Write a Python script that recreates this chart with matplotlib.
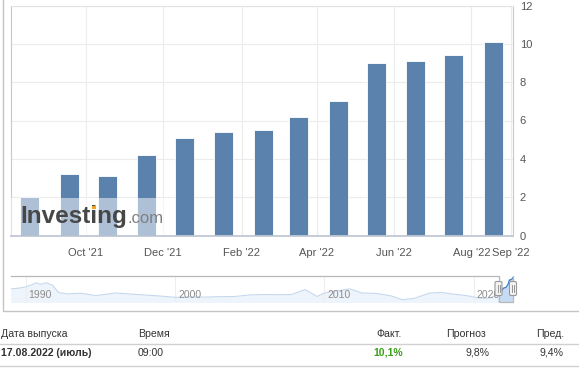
import matplotlib
matplotlib.use("Agg")
import matplotlib.pyplot as plt
from matplotlib.patches import Rectangle, FancyBboxPatch
from matplotlib.lines import Line2D
from matplotlib.transforms import Affine2D
from datetime import datetime

plt.rcParams['font.family'] = ['Liberation Sans', 'DejaVu Sans']

# release months (bars sit mid-month) and CPI y/y values (%)
release_dates = ['2021-08-18', '2021-09-18', '2021-10-18', '2021-11-18', '2021-12-18',
                 '2022-01-18', '2022-02-18', '2022-03-18', '2022-04-18', '2022-05-18',
                 '2022-06-18', '2022-07-18', '2022-08-18']
cpi_values = [2.0, 3.2, 3.1, 4.2, 5.1, 5.4, 5.5, 6.2, 7.0, 9.0, 9.1, 9.4, 10.1]

x_ticks = ['2021-10-01', '2021-12-01', '2022-02-01', '2022-04-01', '2022-06-01',
           '2022-08-01', '2022-09-01']
x_tick_labels = ["Oct '21", "Dec '21", "Feb '22", "Apr '22", "Jun '22", "Aug '22", "Sep '22"]

# navigator history (decimal year, value)
nav_years = [1989.0, 1989.5, 1990.0, 1990.4, 1990.7, 1991.0, 1991.4, 1991.8, 1992.2,
             1992.8, 1993.7, 1994.7, 1996.0, 1997.5, 1999.0, 2000.0, 2001.0, 2002.0,
             2003.0, 2004.0, 2005.0, 2006.0, 2007.0, 2007.8, 2008.7, 2009.5, 2010.0,
             2010.5, 2011.0, 2011.7, 2012.5, 2013.5, 2014.5, 2015.2, 2016.0, 2017.0,
             2017.8, 2018.5, 2019.5, 2020.5, 2021.0, 2021.4]
nav_values = [4.9, 5.2, 5.8, 6.8, 7.7, 7.0, 7.7, 6.6, 3.2,
              2.6, 2.9, 1.8, 3.0, 2.3, 1.6, 1.0, 1.2, 1.1,
              1.3, 1.4, 2.1, 2.3, 2.2, 2.3, 4.6, 1.4, 3.0,
              3.6, 4.2, 4.9, 3.0, 2.8, 1.6, -0.1, 0.5, 2.9,
              3.3, 2.6, 1.8, 0.5, 0.6, 1.6]
nav_tick_years = [1990, 2000, 2010, 2020]

table_header = ['Дата выпуска', 'Время', 'Факт.', 'Прогноз', 'Пред.']
table_row = ['17.08.2022 (июль)', '09:00', '10,1%', '9,8%', '9,4%']

W, H = 579, 368
fig = plt.figure(figsize=(W / 100, H / 100), dpi=100)
# pixel coordinates, y pointing down
px = Affine2D().scale(1 / W, -1 / H).translate(0, 1) + fig.transFigure


def rect(x0, y0, x1, y1):
    return [x0 / W, 1 - y1 / H, (x1 - x0) / W, (y1 - y0) / H]


bar_color = '#5b82ad'
grid_color = '#ececec'

# main chart
dates = [datetime.fromisoformat(d) for d in release_dates]
ax = fig.add_axes(rect(10.7, 5.5, 512.7, 235.5))
ax.bar(dates, cpi_values, width=15, color=bar_color, edgecolor='white',
       linewidth=0.6, zorder=2)
ax.set_ylim(0, 12)
ax.set_yticks(range(0, 13, 2))
ax.set_xlim(datetime(2021, 8, 3), datetime(2022, 9, 2, 12))
ax.set_xticks([datetime.fromisoformat(d) for d in x_ticks])
ax.set_xticklabels(x_tick_labels)
ax.yaxis.tick_right()
ax.tick_params(length=0, labelsize=8, labelcolor='#555555')
ax.tick_params(axis='y', pad=5)
ax.tick_params(axis='x', pad=9)
ax.grid(color=grid_color, lw=0.8, zorder=0)
ax.set_axisbelow(True)
ax.spines['top'].set_color('#e2e2e2')
ax.spines['left'].set_color('#c8c8c8')
ax.spines['right'].set_color('#c8c8c8')
ax.spines['bottom'].set_color('#c0c8d4')
ax.spines['bottom'].set_linewidth(1.3)
for s in ax.spines.values():
    s.set_zorder(3)

# watermark
fig.add_artist(Rectangle((11.3, 197.7), 154, 37, transform=px, facecolor='white',
                         alpha=0.5, edgecolor='none', zorder=2))
fig.text(20 / W, 1 - 223.3 / H, 'Investing', fontsize=17.5, fontweight='bold',
         color='#474747', va='baseline', zorder=3)
fig.text(127.5 / W, 1 - 223.3 / H, '.com', fontsize=12, color='#808080',
         va='baseline', zorder=3)
fig.add_artist(Rectangle((91.6, 205.8), 4.4, 3.6, transform=px, facecolor='#f5a31a',
                         edgecolor='none', zorder=4))

# navigator
nav = fig.add_axes(rect(10.7, 275.7, 513, 302.3))
sel_years = [d.year + (d.timetuple().tm_yday - 1) / 365 for d in dates]
all_years = nav_years + sel_years
all_values = nav_values + cpi_values
nav.fill_between(all_years, all_values, -5, color='#eef4fb', lw=0)
nav.plot(all_years, all_values, color='#c6d8ee', lw=0.8)
nav.fill_between(sel_years, cpi_values, -5, color='#c6dbf4', lw=0)
nav.plot(sel_years, cpi_values, color='#3f7fc8', lw=0.9)
nav.set_xlim(1989.0, 2022.62)
nav.set_ylim(-1.3, 11.0)
nav.set_xticks(nav_tick_years)
nav.set_yticks([])
nav.grid(axis='x', color='#eeeeee', lw=0.8)
nav.tick_params(length=0, labelbottom=False)
for s in nav.spines.values():
    s.set_visible(False)
for yr in nav_tick_years:
    nav.text(yr + 0.2, 0.28, str(yr), transform=nav.get_xaxis_transform(), fontsize=7.5,
             color='#8c8c8c', ha='left', va='center')

# navigator outline and handles
outline = [(10.7, 275.7), (498.5, 275.7), (498.5, 302.3), (513, 302.3), (513, 275.7)]
fig.add_artist(Line2D([p[0] for p in outline], [p[1] for p in outline], transform=px,
                      color='#b8b8b8', lw=0.9))
for hx in [498.5, 513]:
    fig.add_artist(FancyBboxPatch((hx - 3.5, 281.5), 7, 14,
                                  boxstyle='round,pad=0,rounding_size=1.5',
                                  transform=px, facecolor='#f2f2f2', edgecolor='#999999',
                                  lw=0.8, zorder=4))
    for dx in [-1, 1]:
        fig.add_artist(Line2D([hx + dx, hx + dx], [285, 292], transform=px,
                              color='#888888', lw=0.6, zorder=5))

# outer panel border
fig.add_artist(Line2D([2.5, 2.5, 579], [0, 311, 311], transform=px, color='#c4c4c4', lw=1))

# table
for ly in [344.3, 365.5]:
    fig.add_artist(Line2D([0, 579], [ly, ly], transform=px, color='#d0d0d0', lw=1))

head_x = [1, 138, 402, 486, 564]
head_ha = ['left', 'left', 'right', 'right', 'right']
row_x = [1, 138, 403, 490, 564]
for i, txt in enumerate(table_header):
    fig.text(head_x[i] / W, 1 - 334.3 / H, txt, fontsize=7.6, color='#333333',
             ha=head_ha[i], va='center')
row_colors = ['#333333', '#333333', '#3a9f1a', '#333333', '#333333']
row_weights = ['bold', 'normal', 'bold', 'normal', 'normal']
for i, txt in enumerate(table_row):
    fig.text(row_x[i] / W, 1 - 352.7 / H, txt, fontsize=7.6, color=row_colors[i],
             ha=head_ha[i], va='center', fontweight=row_weights[i])

fig.savefig('out.png', dpi=100)
